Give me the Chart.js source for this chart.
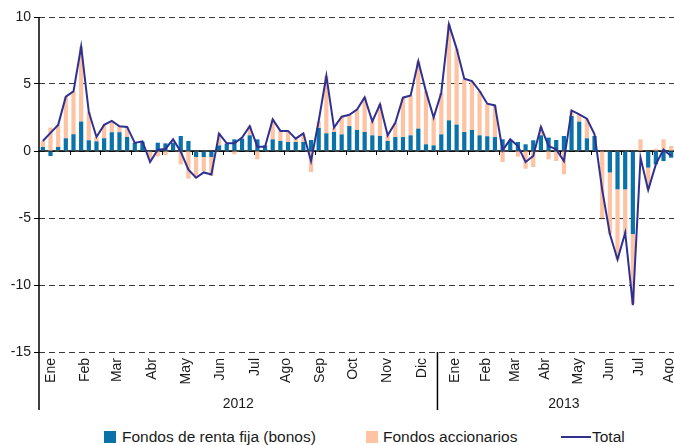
<!DOCTYPE html>
<html>
<head>
<meta charset="utf-8">
<script src="https://cdn.jsdelivr.net/npm/chart.js@4/dist/chart.umd.min.js"></script>
<style>
  html, body { margin: 0; padding: 0; background: #fff; overflow: hidden; }
  #wrap { position: relative; width: 674px; height: 445px; overflow: hidden; }
  #chart { position: absolute; left: 0; top: 0; }
  .legend { position: absolute; top: 427px; left: 0; width: 674px; height: 20px;
            font-family: 'Liberation Sans', Arial, sans-serif; font-size: 15.5px; color: #1a1a1a; }
  .legend span { position: absolute; top: 0; line-height: 20px; white-space: nowrap; }
  .box { width: 12px; height: 12px; top: 4px !important; }
</style>
</head>
<body>
<div id="wrap">
  <canvas id="chart" width="676" height="420"></canvas>
  <div class="legend">
    <span class="box" style="left:104px; background:#0a72a9;"></span>
    <span style="left:122px;">Fondos de renta fija (bonos)</span>
    <span class="box" style="left:366px; background:#fdc3a2;"></span>
    <span style="left:383px;">Fondos accionarios</span>
    <span style="left:561px; top:9px; width:30px; height:2px; background:#2e3192;"></span>
    <span style="left:592px;">Total</span>
  </div>
</div>
<script>
// weekly flows, Jan 2012 - Aug 2013 (52 weeks + 31 weeks)
const bonos = [
  0.3, -0.37, 0.3, 0.95, 1.25, 2.2, 0.8, 0.72, 0.95, 1.4,
  1.4, 1.05, 0.6, 0.7, -0.05, 0.62, 0.57, 0.62, 1.12, 0.75,
  -0.45, -0.45, -0.45, 0.42, 0.55, 0.87, 0.92, 1.17, 0.87, 0.42,
  0.87, 0.75, 0.67, 0.67, 0.67, 0.82, 1.72, 1.32, 1.42, 1.24,
  1.86, 1.57, 1.42, 1.17, 1.12, 0.75, 1.04, 1.04, 1.17, 1.67,
  0.5, 0.42,
  1.24, 2.29, 1.97, 1.42, 1.57, 1.17, 1.1, 1.04, 0.87, 0.75,
  0.67, 0.5, 0.8, 1.17, 1.0, 0.82, 1.12, 2.61, 2.19, 0.95,
  1.12, 0, -1.6, -2.86, -2.86, -6.2, 0, -1.24, -1.0, -0.75,
  -0.5
];
const acciones = [
  0.45, 1.75, 1.65, 3.1, 3.2, 5.6, 2.1, 0.3, 1.0, 0.85,
  0.45, 0.75, 0.05, 0, -0.6, -0.4, -0.3, 0.2, -1.0, -2.06,
  -1.55, -1.05, -1.4, 0.9, 0, -0.25, 0.08, 0.7, -0.62, 0,
  1.49, 0.75, 0.83, 0.25, 0.65, -1.57, 0.5, 4.28, 0.32, 1.32,
  0.86, 1.53, 2.58, 1.07, 2.38, 0.42, 1.07, 2.9, 2.98, 5.03,
  3.98, 2.07,
  3.11, 7.16, 5.67, 3.93, 3.65, 3.31, 2.4, 2.36, -0.82, 0.1,
  -0.42, -1.32, -1.2, 0.62, -0.62, -0.75, -1.74, 0.42, 0.55, 1.46,
  0, -5.0, -4.6, -5.24, -3.34, -5.2, 0.87, -1.62, 0.17, 0.87,
  0.37
];
const total = [
  0.75, 1.35, 1.95, 4.05, 4.45, 7.8, 2.9, 1.05, 1.95, 2.25,
  1.85, 1.8, 0.6, 0.72, -0.82, 0.1, 0.15, 0.87, -0.05, -1.4,
  -2.0, -1.6, -1.75, 1.3, 0.57, 0.57, 1.0, 1.85, 0.32, 0.32,
  2.36, 1.5, 1.5, 0.92, 1.32, -0.75, 2.24, 5.6, 1.74, 2.56,
  2.7, 3.1, 4.0, 2.2, 3.48, 1.17, 2.1, 3.98, 4.15, 6.7,
  4.45, 2.49,
  4.35, 9.45, 7.64, 5.4, 5.22, 4.48, 3.53, 3.4, 0.05, 0.87,
  0.37, -0.82, -0.37, 1.79, 0.37, 0.12, -0.75, 3.03, 2.74, 2.41,
  1.24, -2.9, -6.2, -8.1, -6.1, -11.5, -0.5, -2.9, -1.0, 0.1,
  -0.37
];

// month tick labels and the week (index) each one is centred on
const monthLabels = ['Ene', 'Feb', 'Mar', 'Abr', 'May', 'Jun', 'Jul', 'Ago', 'Sep', 'Oct', 'Nov', 'Dic',
                     'Ene', 'Feb', 'Mar', 'Abr', 'May', 'Jun', 'Jul', 'Ago'];
const monthWeek = [1.1, 5.5, 9.7, 14.2, 18.7, 23.1, 27.7, 31.7, 36.2, 40.5, 44.9, 49.5,
                   53.8, 57.8, 61.7, 65.6, 69.8, 73.9, 77.8, 81.7];
const years = ['2012', '2013'];
const yearCenter = [25.5, 68];
const yearBreak = 51.5;

const FONT = "'Liberation Sans', Arial, sans-serif";
const toPoints = arr => arr.map((v, i) => ({ x: i, y: v }));

// zero line, 4-week tick marks, axis extension, year row
const axisDecor = {
    id: 'axisDecor',
    beforeDatasetsDraw(chart) {
        const { ctx, chartArea, scales } = chart;
        const y0 = scales.y.getPixelForValue(0);
        ctx.save();
        ctx.strokeStyle = '#000';
        ctx.lineWidth = 1.5;
        ctx.beginPath();
        ctx.moveTo(chartArea.left, y0);
        ctx.lineTo(chartArea.right, y0);
        ctx.stroke();
        ctx.lineWidth = 1;
        for (let w = 4; w < total.length; w += 4) {
            const x = Math.round(scales.x.getPixelForValue(w - 0.5)) + 0.5;
            ctx.beginPath();
            ctx.moveTo(x, y0);
            ctx.lineTo(x, y0 + 4);
            ctx.stroke();
        }
        ctx.restore();
    },
    afterDraw(chart) {
        const { ctx, chartArea, scales } = chart;
        const bottom = 410;
        ctx.save();
        ctx.strokeStyle = '#000';
        ctx.lineWidth = 1.5;
        ctx.beginPath();
        ctx.moveTo(chartArea.left, chartArea.top);
        ctx.lineTo(chartArea.left, bottom);
        const xb = scales.x.getPixelForValue(yearBreak);
        ctx.moveTo(xb, chartArea.bottom);
        ctx.lineTo(xb, bottom);
        ctx.stroke();
        ctx.fillStyle = '#1a1a1a';
        ctx.font = '14px ' + FONT;
        ctx.textAlign = 'center';
        ctx.textBaseline = 'middle';
        years.forEach((t, i) => {
            ctx.fillText(t, scales.x.getPixelForValue(yearCenter[i]), 404);
        });
        ctx.restore();
    }
};

new Chart(document.getElementById('chart'), {
    type: 'bar',
    data: {
        datasets: [
            {
                type: 'line',
                label: 'Total',
                data: toPoints(total),
                borderColor: '#2e3192',
                borderWidth: 2,
                pointRadius: 0,
                tension: 0,
                stack: 'total',
                order: 0
            },
            {
                label: 'Fondos de renta fija (bonos)',
                data: toPoints(bonos),
                backgroundColor: '#0a72a9',
                stack: 'funds',
                barPercentage: 0.55,
                categoryPercentage: 1,
                order: 1
            },
            {
                label: 'Fondos accionarios',
                data: toPoints(acciones),
                backgroundColor: '#fdc3a2',
                stack: 'funds',
                barPercentage: 0.55,
                categoryPercentage: 1,
                order: 1
            }
        ]
    },
    options: {
        responsive: false,
        animation: false,
        layout: { padding: { top: 17, right: 1, bottom: 0, left: 0 } },
        plugins: {
            legend: { display: false },
            tooltip: { enabled: false }
        },
        scales: {
            x: {
                type: 'linear',
                offset: false,
                min: -0.5,
                max: total.length - 0.5,
                grid: { display: false, drawTicks: false },
                border: { display: false },
                afterBuildTicks: scale => {
                    scale.ticks = monthWeek.map(v => ({ value: v }));
                },
                afterFit: scale => {
                    scale.height = 68;
                    scale.paddingLeft = 0;
                    scale.paddingRight = 0;
                },
                ticks: {
                    autoSkip: false,
                    minRotation: 90,
                    maxRotation: 90,
                    padding: 6,
                    color: '#1a1a1a',
                    font: { family: FONT, size: 14 },
                    callback: (value, index) => monthLabels[index]
                }
            },
            y: {
                stacked: true,
                min: -15,
                max: 10,
                afterFit: scale => { scale.width = 39; },
                grid: {
                    color: '#3a3a3a',
                    lineWidth: 1,
                    tickColor: '#000',
                    tickLength: 5,
                    tickBorderDash: []
                },
                border: { display: false, dash: [6, 4] },
                ticks: {
                    stepSize: 5,
                    padding: 3,
                    color: '#1a1a1a',
                    font: { family: FONT, size: 14 }
                }
            }
        }
    },
    plugins: [axisDecor]
});
</script>
</body>
</html>
